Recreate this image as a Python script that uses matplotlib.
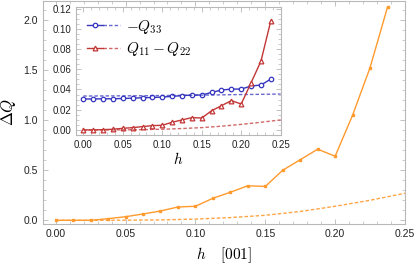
import matplotlib
matplotlib.use("Agg")
import matplotlib.pyplot as plt
from matplotlib.legend_handler import HandlerTuple
from matplotlib.ticker import MultipleLocator

plt.rcParams["font.family"] = ["Liberation Sans", "DejaVu Sans"]
plt.rcParams["mathtext.fontset"] = "cm"

# field values h along [001]
h = [0.0, 0.0125, 0.025, 0.0375, 0.05, 0.0625, 0.075, 0.0875, 0.1, 0.1125,
     0.125, 0.1375, 0.15, 0.1625, 0.175, 0.1875, 0.2, 0.2125, 0.225, 0.2375]

# main panel: Delta Q (numerics) and the perturbative curve (dashed)
dq = [0.0, 0.0, 0.0, 0.016, 0.036, 0.063, 0.093, 0.133, 0.14, 0.22,
      0.28, 0.345, 0.338, 0.50, 0.605, 0.71, 0.64, 1.05, 1.525, 2.13]
h_fit = [0.0, 0.025, 0.05, 0.075, 0.1, 0.125, 0.15, 0.175, 0.2, 0.225, 0.25]
dq_fit = [0.0, 0.0, 0.001, 0.004, 0.012, 0.027, 0.05, 0.088, 0.14, 0.2, 0.27]

# inset: -Q33 and Q11-Q22
q33 = [0.0306, 0.0306, 0.0308, 0.0308, 0.0311, 0.0314, 0.0318, 0.0321, 0.0325, 0.0332,
       0.0339, 0.0345, 0.0345, 0.0371, 0.0394, 0.0404, 0.0404, 0.0434, 0.0444, 0.0503]
q33_fit = [0.0335, 0.0336, 0.0337, 0.0338, 0.0340, 0.0342, 0.0344, 0.0347, 0.0350, 0.0352, 0.0355]
q12 = [0.0, 0.0, 0.0003, 0.0007, 0.0016, 0.0023, 0.0033, 0.0043, 0.0046, 0.0076,
       0.0099, 0.0122, 0.0118, 0.019, 0.024, 0.029, 0.0256, 0.0467, 0.068, 0.108]
q12_fit = [0.0, 0.0, 0.0001, 0.0003, 0.0007, 0.0014, 0.0023, 0.0037, 0.0055, 0.0076, 0.0099]

ORANGE = "#ff9a2e"
BLUE = "#3535c0"
RED = "#c23636"
FRAME = "#b8b8b8"


def style(ax, fs):
    for s in ax.spines.values():
        s.set_color(FRAME)
        s.set_linewidth(0.8)
    ax.tick_params(which="both", direction="in", top=True, right=True,
                   color=FRAME, labelsize=fs, labelcolor="#222222")
    ax.tick_params(which="major", length=3.5, width=0.6)
    ax.tick_params(which="minor", length=2, width=0.5)


fig = plt.figure(figsize=(4.15, 2.64), dpi=100)
ax = fig.add_axes([0.1029, 0.1515, 0.873, 0.8465])
ax.plot(h, dq, "-s", color=ORANGE, lw=1.0, ms=1.8)
ax.plot(h_fit, dq_fit, "--", color=ORANGE, lw=1.0, dashes=(2.5, 1.5), alpha=0.9)
ax.set_xlim(-0.0093, 0.25)
ax.set_ylim(-0.037, 2.195)
ax.xaxis.set_major_locator(MultipleLocator(0.05))
ax.xaxis.set_minor_locator(MultipleLocator(0.01))
ax.yaxis.set_major_locator(MultipleLocator(0.5))
ax.yaxis.set_minor_locator(MultipleLocator(0.1))
ax.xaxis.set_major_formatter(lambda v, p: f"{v:.2f}")
ax.yaxis.set_major_formatter(lambda v, p: f"{v:.1f}")
style(ax, 7.5)
ax.set_ylabel(r"$\Delta Q$", fontsize=12, labelpad=4)
ax.set_xlabel(r"$h\quad\,[001]$", fontsize=11, labelpad=5)

ins = fig.add_axes([0.1831, 0.4886, 0.4933, 0.4849])
b1, = ins.plot(h, q33, "-o", color=BLUE, lw=1.0, ms=3.2, mfc="white", mew=0.9)
b2, = ins.plot(h_fit, q33_fit, "--", color=BLUE, lw=1.0, dashes=(2.5, 1.5), alpha=0.75)
r1, = ins.plot(h, q12, "-^", color=RED, lw=1.0, ms=3.4, mfc="white", mew=0.9)
r2, = ins.plot(h_fit, q12_fit, "--", color=RED, lw=1.0, dashes=(2.5, 1.5), alpha=0.75)
ins.set_xlim(-0.0093, 0.25)
ins.set_ylim(-0.005, 0.1215)
ins.xaxis.set_major_locator(MultipleLocator(0.05))
ins.xaxis.set_minor_locator(MultipleLocator(0.01))
ins.yaxis.set_major_locator(MultipleLocator(0.02))
ins.yaxis.set_minor_locator(MultipleLocator(0.005))
ins.xaxis.set_major_formatter(lambda v, p: f"{v:.2f}")
ins.yaxis.set_major_formatter(lambda v, p: f"{v:.2f}")
style(ins, 7)
ins.set_xlabel(r"$h$", fontsize=11, labelpad=1)
ins.set_facecolor("white")
ins.legend([(b1, b2), (r1, r2)], [r"$-Q_{33}$", r"$Q_{11}-Q_{22}$"],
           handler_map={tuple: HandlerTuple(ndivide=None, pad=0)},
           loc="upper left", frameon=False, fontsize=11, handlelength=2.2,
           handletextpad=0.4, labelspacing=0.3, borderaxespad=0.3)

fig.savefig("out.png", dpi=100)
